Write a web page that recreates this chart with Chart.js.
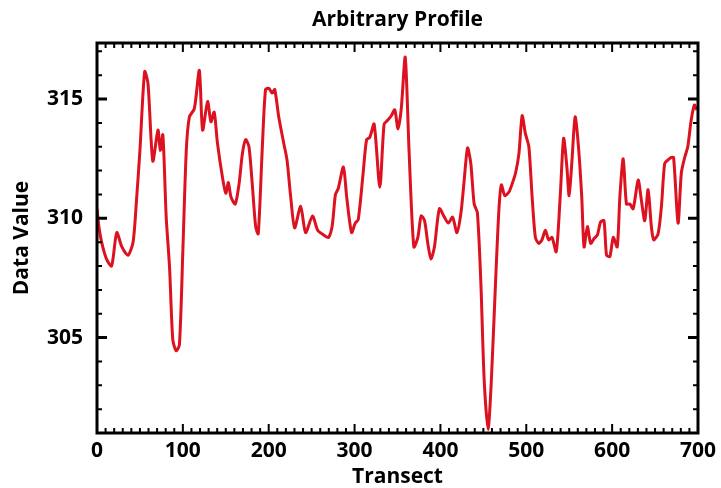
<!DOCTYPE html>
<html>
<head>
<meta charset="utf-8">
<script src="https://cdn.jsdelivr.net/npm/chart.js@4.4.1/dist/chart.umd.min.js"></script>
<style>
  html, body { margin: 0; padding: 0; background: #fff; }
  #wrap { width: 721px; height: 488px; }
</style>
</head>
<body>
<div id="wrap"><canvas id="profile" width="721" height="488"></canvas></div>
<script>
// profile samples
const transect = [
  0, 2, 5.4, 11, 17, 23, 29, 36, 42, 46, 50, 55.5, 59.4, 65, 71, 73.7, 76.7, 80.6, 84.5, 88.3,
  92.2, 96, 100, 104, 107.6, 113.4, 119.2, 123, 128.8, 132.7, 136.5, 140.3, 146, 150, 153, 156,
  161, 165.5, 169.3, 173.2, 177, 180.8, 184.8, 187.8, 192.4, 196.3, 200.2, 204, 207, 211.7,
  217.5, 221.3, 225.6, 230.2, 237.2, 243, 251, 257, 264, 269.6, 274, 277.7, 281, 287, 290.8,
  296.5, 300.8, 304.3, 310, 314, 317.8, 322.8, 329.4, 334.4, 338.2, 342.8, 346.8, 350.6, 354.4,
  359, 363.5, 369, 373.7, 377.5, 381.5, 385.3, 389, 393, 398.8, 404.6, 409.2, 414.2, 419.2,
  423.8, 427.7, 431.6, 435.4, 439.3, 443, 447, 451, 455.5, 459.3, 464.3, 468.2, 471, 475,
  479.8, 483.6, 487.5, 491.4, 495.2, 499, 503, 506.8, 510.6, 514.5, 518.3, 522.2, 526.1, 529.9,
  534.9, 539.5, 543.5, 547.3, 549.9, 553, 556.9, 560.8, 564.6, 567.3, 571.2, 575, 578.9, 582.8,
  586.6, 590.5, 593.5, 597.4, 601.3, 605.9, 609, 612.9, 616.7, 620.6, 624.5, 630.3, 634.1, 638,
  641.9, 645.7, 648.4, 653.5, 657.4, 661.2, 665.2, 669, 671.6, 676.8, 680.6, 684.5, 688.1, 692,
  695.8, 698.5
];
const dataValue = [
  310.4, 309.7, 309.0, 308.3, 308.0, 309.4, 308.8, 308.45, 309.0, 310.75, 312.85, 316.15, 315.65, 312.4, 313.7, 312.85, 313.5, 310.05, 307.95, 304.9,
  304.45, 304.7, 308.65, 312.85, 314.25, 314.6, 316.2, 313.7, 314.9, 314.05, 314.45, 313.15, 311.75, 311.05, 311.5, 310.9,
  310.6, 311.45, 312.7, 313.3, 313.0, 311.45, 309.65, 309.35, 312.85, 315.4, 315.45, 315.25, 315.4, 314.25,
  313.15, 312.45, 310.9, 309.6, 310.5, 309.4, 310.1, 309.5, 309.3, 309.2, 309.7, 311.0, 311.25, 312.15, 310.9,
  309.4, 309.8, 309.95, 311.9, 313.3, 313.4, 313.95, 311.3, 313.95, 314.1, 314.3, 314.55, 313.75, 314.6,
  316.75, 312.8, 308.8, 309.2, 310.1, 309.9, 308.95, 308.3, 308.8, 310.4, 310.05, 309.8, 310.05, 309.4,
  310.2, 311.6, 312.95, 312.3, 310.6, 310.25, 307.4, 303.2, 301.15, 303.2, 307.4, 310.4, 311.4, 310.95,
  311.1, 311.45, 311.9, 312.7, 314.3, 313.55, 313.0, 310.9, 309.2, 308.95, 309.1, 309.5, 309.1, 309.2,
  308.6, 310.9, 313.35, 312.15, 310.95, 312.3, 314.25, 313.0, 310.9, 308.8, 309.65, 308.95, 309.15, 309.3,
  309.85, 309.9, 308.45, 308.4, 309.2, 308.8, 310.9, 312.5, 310.6, 310.6, 310.4, 311.6, 310.75, 309.9,
  311.2, 309.65, 309.1, 309.35, 310.5, 312.3, 312.45, 312.55, 312.55, 309.8, 311.9, 312.55, 313.0, 314.1,
  314.75, 314.55
];

const xTicks = [0, 100, 200, 300, 400, 500, 600, 700];
const yTicks = [305, 310, 315];
const xMinorStep = 10;
const yMinorStep = 1;

const FONT = 'Open Sans';

// IDL-style box with inward ticks on all four sides
const boxTicksPlugin = {
    id: 'boxTicks',
    afterDraw: (chart) => {
        const { ctx, chartArea: a } = chart;
        const xs = chart.scales.x, ys = chart.scales.y;
        ctx.save();
        ctx.strokeStyle = '#000';
        ctx.lineCap = 'butt';

        ctx.lineWidth = 2;
        for (let v = xs.min; v <= xs.max + 0.001; v += xMinorStep) {
            const px = xs.getPixelForValue(v);
            const len = xTicks.includes(Math.round(v)) ? 9 : 5;
            ctx.beginPath();
            ctx.moveTo(px, a.bottom); ctx.lineTo(px, a.bottom - len);
            ctx.moveTo(px, a.top); ctx.lineTo(px, a.top + len);
            ctx.stroke();
        }
        for (let v = Math.ceil(ys.min); v <= ys.max; v += yMinorStep) {
            const py = ys.getPixelForValue(v);
            const len = yTicks.includes(v) ? 10 : 5;
            ctx.lineWidth = yTicks.includes(v) ? 3 : 2;
            ctx.beginPath();
            ctx.moveTo(a.left, py); ctx.lineTo(a.left + len, py);
            ctx.moveTo(a.right, py); ctx.lineTo(a.right - len, py);
            ctx.stroke();
        }

        ctx.lineWidth = 3;
        ctx.strokeRect(a.left, a.top, a.right - a.left, a.bottom - a.top);

        // title centred over the plot box
        ctx.fillStyle = '#000';
        ctx.font = 'bold 21px "' + FONT + '"';
        ctx.textAlign = 'center';
        ctx.textBaseline = 'middle';
        ctx.fillText('Arbitrary Profile', (a.left + a.right) / 2, 20);
        ctx.restore();
    }
};

new Chart(document.getElementById('profile'), {
    type: 'line',
    data: {
        datasets: [{
            data: transect.map((x, i) => ({ x: x, y: dataValue[i] })),
            borderColor: '#dc1220',
            borderWidth: 3,
            pointRadius: 0,
            tension: 0.25,
            fill: false
        }]
    },
    options: {
        responsive: false,
        animation: false,
        layout: { padding: { top: 43, right: 19, bottom: 0, left: 0 } },
        plugins: { legend: { display: false }, tooltip: { enabled: false } },
        scales: {
            x: {
                type: 'linear',
                min: 0,
                max: 700,
                grid: { display: false, drawTicks: false },
                border: { display: false },
                afterFit: (s) => { s.height = 55; },
                afterBuildTicks: (s) => { s.ticks = xTicks.map(v => ({ value: v })); },
                ticks: {
                    color: '#000',
                    padding: 5,
                    maxRotation: 0,
                    font: { family: FONT, size: 21, weight: 'bold' }
                },
                title: {
                    display: true,
                    text: 'Transect',
                    color: '#000',
                    padding: { top: 0, bottom: 0 },
                    font: { family: FONT, size: 21, weight: 'bold', lineHeight: 1 }
                }
            },
            y: {
                type: 'linear',
                min: 301,
                max: 317.35,
                grid: { display: false, drawTicks: false },
                border: { display: false },
                afterFit: (s) => { s.width = 97; },
                afterBuildTicks: (s) => { s.ticks = yTicks.map(v => ({ value: v })); },
                ticks: {
                    color: '#000',
                    padding: 14,
                    font: { family: FONT, size: 21, weight: 'bold' }
                },
                title: {
                    display: true,
                    text: 'Data Value',
                    color: '#000',
                    padding: { top: 12, bottom: 0 },
                    font: { family: FONT, size: 21, weight: 'bold', lineHeight: 1 }
                }
            }
        }
    },
    plugins: [boxTicksPlugin]
});
</script>
</body>
</html>
